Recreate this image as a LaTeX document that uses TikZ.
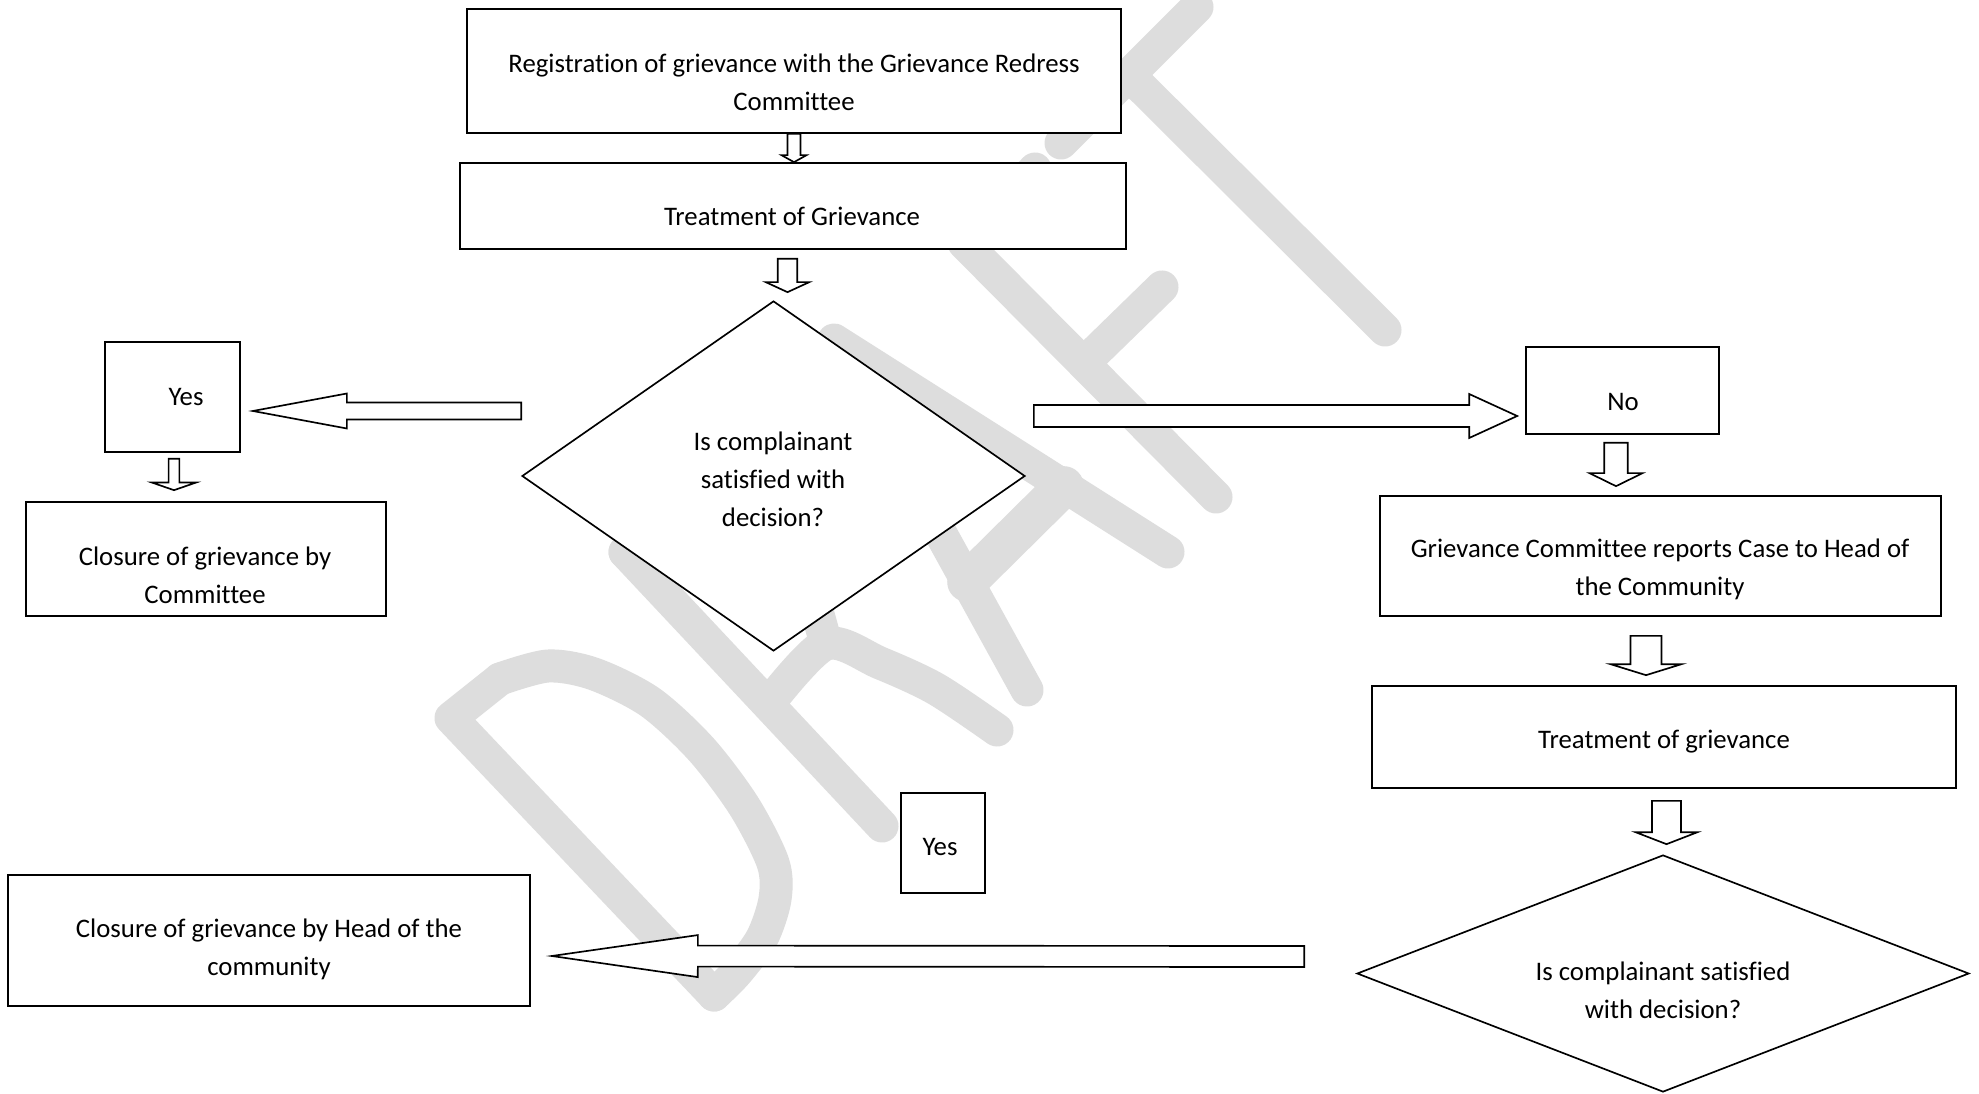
\documentclass[tikz,border=0pt]{standalone}
\usepackage{fontspec}
\setmainfont{Carlito}[Ligatures={NoCommon}]
\usetikzlibrary{shapes.geometric,calc}

\newcommand\pxu{0.48pt}
\newcommand\flowfont{\fontsize{12.85}{18.2}\selectfont}
\definecolor{wmgray}{RGB}{221,221,221}

\tikzset{
  box/.style={draw, fill=white, line width=0.8pt, inner sep=0pt},
  choice/.style={diamond, draw, fill=white, line width=0.8pt, inner sep=0pt},
  lbl/.style={align=center, font=\flowfont, inner sep=0pt},
  wm/.style={draw=wmgray, line width=15.84pt, line cap=round, line join=round},
  blockarrow/.style n args={3}{draw, fill=white, line width=0.8pt, line join=miter,
    to path={let \p1=(\tikztostart), \p2=(\tikztotarget),
      \p3=($(\p2)!#3*\pxu!(\p1)$) in
      ($(\p1)!#1*\pxu!90:(\p2)$) -- ($(\p3)!#1*\pxu!90:(\p2)$)
      -- ($(\p3)!#2*\pxu!90:(\p2)$) -- (\p2)
      -- ($(\p3)!#2*\pxu!-90:(\p2)$) -- ($(\p3)!#1*\pxu!-90:(\p2)$)
      -- ($(\p1)!#1*\pxu!-90:(\p2)$) -- cycle}},
}

\begin{document}
\begin{tikzpicture}[x=\pxu, y=-\pxu]
  \fill[white] (0,0) rectangle (1979,1094);
  \useasboundingbox (0,0) rectangle (1979,1094);

  \draw[wm] (714,995) -- (451,718) -- (500,679);
  \draw[wm] plot[smooth] coordinates {(500,679) (548,666) (594,674) (650,702) (701,749) (744,806) (773,863) (775,899) (762,938) (737,972) (714,995)};
  \draw[wm] (625,552) -- (882,826);
  \draw[wm] plot[smooth] coordinates {(625,552) (684,496) (745,508) (795,548) (826,644)};
  \draw[wm] plot[smooth] coordinates {(770,702) (826,644) (880,663) (936,689) (997,730)};
  \draw[wm] (1027,690) -- (834,340) -- (1168,552);
  \draw[wm, line width=19pt] (967,582) -- (1064,486);
  \draw[wm] (1035,169) -- (964,243) -- (1216,497);
  \draw[wm] (1085,362) -- (1162,287);
  \draw[wm] (1061,143) -- (1197,7);
  \draw[wm] (1129,75) -- (1385,330);

  \node[box, minimum width=654*\pxu, minimum height=124*\pxu] (Reg) at (794,71) {};
  \node[box, minimum width=666*\pxu, minimum height=86*\pxu] (Tr) at (793,206) {};
  \node[choice, minimum width=503*\pxu, minimum height=350*\pxu] (Q1) at (773.5,476) {};
  \node[box, minimum width=135*\pxu, minimum height=110*\pxu] (Y1) at (172.5,397) {};
  \node[box, minimum width=360*\pxu, minimum height=114*\pxu] (C1) at (206,559) {};
  \node[box, minimum width=193*\pxu, minimum height=87*\pxu] (N) at (1622.5,390.5) {};
  \node[box, minimum width=561*\pxu, minimum height=120*\pxu] (GC) at (1660.5,556) {};
  \node[box, minimum width=584*\pxu, minimum height=102*\pxu] (Tr2) at (1664,737) {};
  \node[choice, minimum width=612*\pxu, minimum height=237*\pxu] (Q2) at (1663,973.5) {};
  \node[box, minimum width=84*\pxu, minimum height=100*\pxu] (Y2) at (943,843) {};
  \node[box, minimum width=522*\pxu, minimum height=131*\pxu] (C2) at (269,940.5) {};

  \node[lbl] (Reg-t) at (794,82) {Registration of grievance with the Grievance Redress\\Committee};
  \node[lbl] (Tr-t) at (792,216) {Treatment of Grievance};
  \node[lbl] (Q1-t) at (773,479) {Is complainant\\satisfied with\\decision?};
  \node[lbl] (Y1-t) at (186,397) {Yes};
  \node[lbl] (C1-t) at (205,575.5) {Closure of grievance by\\Committee};
  \node[lbl] (N-t) at (1623,402) {No};
  \node[lbl] (GC-t) at (1660,569) {Grievance Committee reports Case to Head of\\the Community};
  \node[lbl] (Tr2-t) at (1664,742) {Treatment of grievance};
  \node[lbl] (Q2-t) at (1663,990) {Is complainant satisfied\\with decision?};
  \node[lbl] (Y2-t) at (940,847) {Yes};
  \node[lbl] (C2-t) at (269,949) {Closure of grievance by Head of the\\community};

  \draw[blockarrow={6.5}{12.5}{7}] (Reg.south) to (Reg.south |- Tr.north);
  \draw[blockarrow={9.8}{21.7}{10}] ($(Tr.south)+(-5.5,9)$) to ($(Q1.north)+(14,-8)$);
  \draw[blockarrow={8.5}{17.5}{94}] ($(Q1.west)+(0,-65)$) to ($(Y1.east)+(12,14)$);
  \draw[blockarrow={5.4}{22.3}{7.7}] ($(Y1.south)+(1.5,6)$) to ($(C1.north)+(-32,-11)$);
  \draw[blockarrow={11}{22}{48}] ($(Q1.east)+(8,-60)$) to ($(N.west)+(-8,25.5)$);
  \draw[blockarrow={11.75}{26.5}{13}] ($(N.south)+(-6.5,8)$) to ($(GC.north)+(-44.5,-9)$);
  \draw[blockarrow={15.5}{35.5}{11}] ($(GC.south)+(-14.5,19)$) to ($(Tr2.north)+(-18,-10)$);
  \draw[blockarrow={14.5}{31}{12}] ($(Tr2.south)+(2.5,12)$) to ($(Q2.north)+(3.5,-10)$);
  \draw[blockarrow={10.5}{21}{146}] ($(Q2.west)+(-52,-17)$) to ($(C2.east)+(21,15.5)$);
\end{tikzpicture}
\end{document}
